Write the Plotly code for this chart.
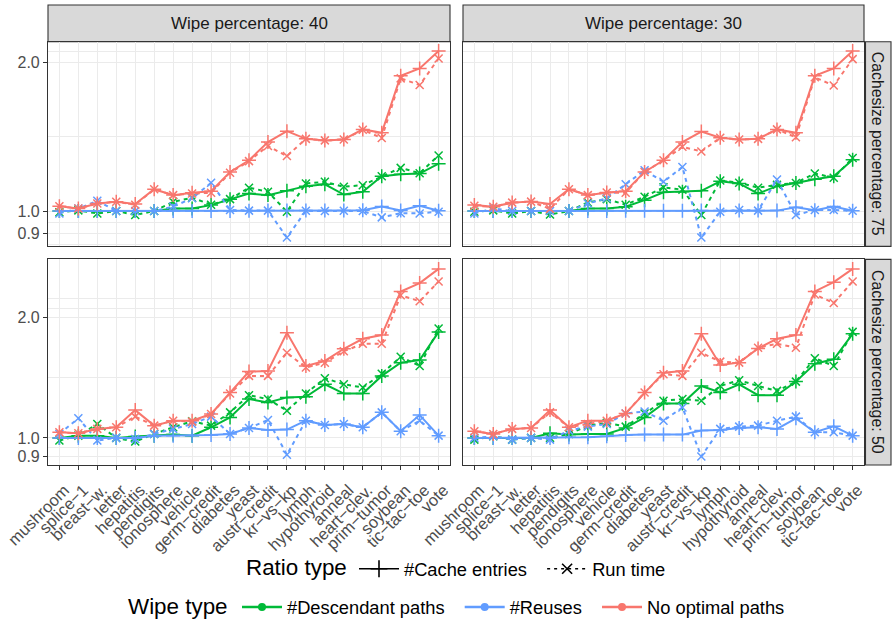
import plotly.graph_objects as go

categories = ["mushroom", "splice\u22121", "breast\u2212w.", "letter", "hepatitis", "pendigits",
              "ionosphere", "vehicle", "germ\u2212credit", "diabetes", "yeast", "austr\u2212credit",
              "kr\u2212vs\u2212kp", "lymph", "hypothyroid", "anneal", "heart\u2212clev.", "prim\u2212tumor",
              "soybean", "tic\u2212tac\u2212toe", "vote"]

wipe_types = ["#Descendant paths", "#Reuses", "No optimal paths"]
ratio_types = ["#Cache entries", "Run time"]
wipe_pcts = ["40", "30"]
cache_pcts = ["75", "50"]

# Wipe 40 / Cachesize 75
w40_c75_desc_cache = [1.0, 1.0, 1.0, 1.0, 1.0, 1.0, 1.012, 1.012, 1.028, 1.057, 1.085, 1.077, 1.099, 1.123, 1.133, 1.080, 1.094, 1.176, 1.187, 1.191, 1.247]
w40_c75_desc_run = [0.994, 1.003, 0.989, 1.0, 0.982, 1.0, 1.044, 1.064, 1.030, 1.057, 1.115, 1.094, 0.997, 1.137, 1.146, 1.120, 1.128, 1.176, 1.223, 1.193, 1.296]
w40_c75_reuse_cache = [1.0, 1.0, 1.0, 1.0, 1.0, 1.0, 1.0, 1.0, 1.0, 1.0, 1.001, 1.002, 1.003, 1.002, 1.002, 1.002, 1.004, 1.021, 1.003, 1.025, 1.001]
w40_c75_reuse_run = [0.989, 1.012, 1.049, 1.0, 1.0, 1.0, 1.021, 1.061, 1.141, 1.005, 1.002, 1.002, 0.884, 1.001, 1.0, 1.001, 1.0, 0.971, 0.990, 0.989, 0.997]
w40_c75_noopt_cache = [1.023, 1.012, 1.036, 1.044, 1.033, 1.107, 1.077, 1.089, 1.097, 1.200, 1.267, 1.379, 1.451, 1.400, 1.390, 1.396, 1.463, 1.440, 1.878, 1.944, 2.108]
w40_c75_noopt_run = [1.023, 1.012, 1.036, 1.044, 1.030, 1.107, 1.077, 1.085, 1.089, 1.195, 1.262, 1.354, 1.292, 1.400, 1.390, 1.396, 1.460, 1.405, 1.856, 1.799, 2.036]

# Wipe 30 / Cachesize 75
w30_c75_desc_cache = [1.0, 1.0, 1.0, 1.0, 1.0, 1.0, 1.012, 1.012, 1.020, 1.052, 1.091, 1.094, 1.099, 1.149, 1.137, 1.085, 1.123, 1.140, 1.160, 1.176, 1.270]
w30_c75_desc_run = [0.997, 1.003, 0.989, 1.0, 0.984, 1.0, 1.041, 1.057, 1.030, 1.069, 1.117, 1.105, 0.982, 1.153, 1.141, 1.115, 1.130, 1.140, 1.191, 1.168, 1.280]
w30_c75_reuse_cache = [1.0, 1.0, 1.0, 1.0, 1.0, 1.0, 1.0, 1.0, 1.001, 1.001, 1.001, 1.001, 1.003, 1.003, 1.003, 1.002, 1.002, 1.018, 1.004, 1.021, 1.001]
w30_c75_reuse_run = [0.989, 1.012, 1.0, 1.0, 1.0, 1.0, 1.036, 1.061, 1.133, 1.209, 1.146, 1.228, 0.884, 0.997, 1.005, 1.002, 1.158, 0.982, 1.005, 1.005, 1.001]
w30_c75_noopt_cache = [1.028, 1.020, 1.040, 1.045, 1.033, 1.107, 1.077, 1.090, 1.097, 1.200, 1.267, 1.379, 1.448, 1.407, 1.396, 1.400, 1.463, 1.440, 1.878, 1.944, 2.108]
w30_c75_noopt_run = [1.025, 1.020, 1.040, 1.045, 1.010, 1.107, 1.077, 1.090, 1.089, 1.200, 1.267, 1.349, 1.320, 1.407, 1.396, 1.400, 1.463, 1.410, 1.865, 1.795, 2.030]

# Wipe 40 / Cachesize 50
w40_c50_desc_cache = [1.0, 1.013, 1.013, 1.0, 1.008, 1.013, 1.019, 1.013, 1.063, 1.125, 1.250, 1.226, 1.262, 1.266, 1.361, 1.290, 1.290, 1.428, 1.541, 1.564, 1.839]
w40_c50_desc_run = [0.985, 1.013, 1.083, 1.0, 0.979, 1.023, 1.063, 1.100, 1.073, 1.158, 1.278, 1.250, 1.169, 1.290, 1.409, 1.361, 1.336, 1.445, 1.594, 1.512, 1.875]
w40_c50_reuse_cache = [1.0, 1.0, 1.0, 1.0, 1.0, 1.013, 1.013, 1.013, 1.017, 1.023, 1.059, 1.047, 1.049, 1.104, 1.077, 1.083, 1.063, 1.158, 1.039, 1.140, 1.013]
w40_c50_reuse_run = [1.023, 1.119, 0.985, 1.0, 0.994, 1.023, 1.053, 1.083, 1.130, 1.023, 1.059, 1.108, 0.908, 1.104, 1.077, 1.083, 1.063, 1.158, 1.039, 1.104, 1.013]
w40_c50_noopt_cache = [1.033, 1.027, 1.053, 1.063, 1.173, 1.073, 1.104, 1.104, 1.147, 1.298, 1.464, 1.469, 1.829, 1.512, 1.556, 1.669, 1.768, 1.806, 2.320, 2.434, 2.641]
w40_c50_noopt_run = [1.033, 1.027, 1.053, 1.063, 1.130, 1.073, 1.104, 1.098, 1.147, 1.290, 1.428, 1.428, 1.631, 1.498, 1.540, 1.645, 1.718, 1.718, 2.270, 2.193, 2.457]

# Wipe 30 / Cachesize 50
w30_c50_desc_cache = [1.0, 1.0, 1.0, 1.0, 1.027, 1.019, 1.023, 1.023, 1.059, 1.125, 1.219, 1.219, 1.348, 1.298, 1.361, 1.278, 1.278, 1.382, 1.532, 1.571, 1.819]
w30_c50_desc_run = [0.990, 1.009, 0.990, 1.0, 1.0, 1.023, 1.073, 1.090, 1.067, 1.151, 1.238, 1.250, 1.238, 1.348, 1.393, 1.348, 1.310, 1.382, 1.580, 1.512, 1.839]
w30_c50_reuse_cache = [1.0, 1.0, 1.0, 1.0, 1.0, 1.004, 1.004, 1.009, 1.017, 1.019, 1.019, 1.019, 1.043, 1.047, 1.059, 1.063, 1.053, 1.119, 1.033, 1.069, 1.013]
w30_c50_reuse_run = [1.0, 1.009, 0.990, 1.0, 0.990, 1.043, 1.067, 1.083, 1.151, 1.164, 1.104, 1.191, 0.899, 1.053, 1.067, 1.073, 1.104, 1.130, 1.033, 1.033, 1.013]
w30_c50_noopt_cache = [1.039, 1.023, 1.053, 1.059, 1.173, 1.063, 1.104, 1.104, 1.151, 1.298, 1.455, 1.469, 1.819, 1.520, 1.541, 1.672, 1.768, 1.806, 2.320, 2.447, 2.641]
w30_c50_noopt_run = [1.039, 1.023, 1.053, 1.059, 1.158, 1.063, 1.083, 1.104, 1.151, 1.298, 1.442, 1.428, 1.631, 1.550, 1.541, 1.679, 1.718, 1.679, 2.280, 2.171, 2.457]

y_tick_vals = [0.9, 1.0, 2.0]
y_tick_text = ["0.9", "1.0", "2.0"]

panels = {
    ("40", "75"): [(w40_c75_desc_cache, w40_c75_desc_run), (w40_c75_reuse_cache, w40_c75_reuse_run), (w40_c75_noopt_cache, w40_c75_noopt_run)],
    ("30", "75"): [(w30_c75_desc_cache, w30_c75_desc_run), (w30_c75_reuse_cache, w30_c75_reuse_run), (w30_c75_noopt_cache, w30_c75_noopt_run)],
    ("40", "50"): [(w40_c50_desc_cache, w40_c50_desc_run), (w40_c50_reuse_cache, w40_c50_reuse_run), (w40_c50_noopt_cache, w40_c50_noopt_run)],
    ("30", "50"): [(w30_c50_desc_cache, w30_c50_desc_run), (w30_c50_reuse_cache, w30_c50_reuse_run), (w30_c50_noopt_cache, w30_c50_noopt_run)],
}

colors = ["#00BA38", "#619CFF", "#F8766D"]
W, H = 893, 626
FONT = "Liberation Sans, Arial, sans-serif"
NB = "\u00a0"

# Layout geometry (pixels)
col_x = [(48, 450), (463, 864)]
row_y = [(42, 248), (261, 468)]
row_ranges = [[-0.0716, 0.3427], [-0.0677, 0.4457]]
row_minor = [[0.854, 0.9487, 1.4142, 2.108], [0.9487, 1.4142, 2.108, 2.223]]

fig = go.Figure()
layout = {}
shapes = []
annotations = []
idx = 0
for r, cp in enumerate(cache_pcts):
    for c, wp in enumerate(wipe_pcts):
        idx += 1
        xa = "x" if idx == 1 else f"x{idx}"
        ya = "y" if idx == 1 else f"y{idx}"
        for k, (cache_vals, run_vals) in enumerate(panels[(wp, cp)]):
            col = colors[k]
            fig.add_trace(go.Scatter(
                x=categories, y=cache_vals, mode="lines+markers", xaxis=xa, yaxis=ya,
                line=dict(color=col, width=2),
                marker=dict(symbol="cross-thin-open", size=10, color=col, line=dict(color=col, width=1.5)),
                showlegend=False, name=f"{wipe_types[k]} - {ratio_types[0]}"))
            fig.add_trace(go.Scatter(
                x=categories, y=run_vals, mode="lines+markers", xaxis=xa, yaxis=ya,
                line=dict(color=col, width=2, dash="4px,4px"),
                marker=dict(symbol="x-thin-open", size=8, color=col, line=dict(color=col, width=1.5)),
                showlegend=False, name=f"{wipe_types[k]} - {ratio_types[1]}"))
        x0, x1 = col_x[c]
        y0, y1 = row_y[r]
        xkey = "xaxis" if idx == 1 else f"xaxis{idx}"
        ykey = "yaxis" if idx == 1 else f"yaxis{idx}"
        layout[xkey] = dict(
            domain=[x0 / W, x1 / W], anchor=ya, type="category",
            categoryorder="array", categoryarray=categories,
            tickmode="array", tickvals=categories, ticktext=categories,
            range=[-0.6, len(categories) - 0.4], automargin=False,
            showgrid=True, gridcolor="#EBEBEB", gridwidth=1.1,
            showline=True, linecolor="#333333", linewidth=1.1, mirror=True,
            ticks="outside" if r == 1 else "", ticklen=4, tickcolor="#333333", tickwidth=1.1,
            showticklabels=(r == 1), tickangle=-45,
            ticklabelstandoff=4, ticklabelshift=5,
            tickfont=dict(family=FONT, size=16.5, color="#4D4D4D"), zeroline=False)
        layout[ykey] = dict(
            domain=[1 - y1 / H, 1 - y0 / H], anchor=xa, type="log", automargin=False,
            range=row_ranges[r], tickmode="array", tickvals=y_tick_vals, ticktext=y_tick_text,
            showgrid=True, gridcolor="#EBEBEB", gridwidth=1.1,
            minor=dict(tickmode="array", tickvals=row_minor[r], showgrid=True,
                       gridcolor="#EBEBEB", gridwidth=0.7, ticks=""),
            showline=True, linecolor="#333333", linewidth=1.1, mirror=True,
            ticks="outside" if c == 0 else "", ticklen=4, tickcolor="#333333", tickwidth=1.1,
            showticklabels=(c == 0),
            tickfont=dict(family=FONT, size=16, color="#4D4D4D"), zeroline=False)

# Strips (top: wipe percentage; right: cachesize percentage)
for c, wp in enumerate(wipe_pcts):
    x0, x1 = col_x[c]
    shapes.append(dict(type="rect", xref="paper", yref="paper", x0=x0 / W, x1=x1 / W,
                       y0=1 - 42 / H, y1=1 - 5 / H, fillcolor="#D9D9D9",
                       line=dict(color="#333333", width=1.1), layer="below"))
    annotations.append(dict(text=f"Wipe percentage: {wp}", xref="paper", yref="paper",
                            x=(x0 + x1) / 2 / W, y=1 - 23.5 / H, showarrow=False,
                            font=dict(family=FONT, size=17, color="#1A1A1A"),
                            xanchor="center", yanchor="middle"))
for r, cp in enumerate(cache_pcts):
    y0, y1 = row_y[r]
    shapes.append(dict(type="rect", xref="paper", yref="paper", x0=865.5 / W, x1=891 / W,
                       y0=1 - y1 / H, y1=1 - y0 / H, fillcolor="#D9D9D9",
                       line=dict(color="#333333", width=1.1), layer="below"))
    annotations.append(dict(text=f"Cachesize percentage: {cp}", xref="paper", yref="paper",
                            x=878.2 / W, y=1 - (y0 + y1) / 2 / H, showarrow=False, textangle=90,
                            font=dict(family=FONT, size=15.8, color="#1A1A1A"),
                            xanchor="center", yanchor="middle"))

# Legend titles
annotations.append(dict(text="Ratio type", xref="paper", yref="paper", x=244 / W, y=1 - 571.5 / H,
                        showarrow=False, xanchor="left", yanchor="middle",
                        font=dict(family=FONT, size=22.4, color="black")))
annotations.append(dict(text="Wipe type", xref="paper", yref="paper", x=126 / W, y=1 - 610 / H,
                        showarrow=False, xanchor="left", yanchor="middle",
                        font=dict(family=FONT, size=22.4, color="black")))

# Legend entries (non-breaking spaces pad the gap to the next key)
ratio_pads = [NB * 2, ""]
wipe_pads = [NB * 2, NB * 2, ""]
fig.add_trace(go.Scatter(x=[None], y=[None], mode="lines+markers", name=ratio_types[0] + ratio_pads[0], legend="legend",
                         line=dict(color="black", width=1.6),
                         marker=dict(symbol="cross-thin-open", size=12, color="black", line=dict(color="black", width=1.6))))
fig.add_trace(go.Scatter(x=[None], y=[None], mode="lines+markers", name=ratio_types[1] + ratio_pads[1], legend="legend",
                         line=dict(color="black", width=1.6, dash="3px,4px"),
                         marker=dict(symbol="x-thin-open", size=10, color="black", line=dict(color="black", width=1.6))))
for k, wt in enumerate(wipe_types):
    fig.add_trace(go.Scatter(x=[None], y=[None], mode="lines+markers", name=wt + wipe_pads[k], legend="legend2",
                             line=dict(color=colors[k], width=2.5),
                             marker=dict(symbol="circle", size=8, color=colors[k])))

fig.update_layout(
    width=W, height=H, margin=dict(l=0, r=0, t=0, b=0),
    paper_bgcolor="white", plot_bgcolor="white",
    font=dict(family=FONT, color="#1A1A1A"),
    shapes=shapes, annotations=annotations,
    legend=dict(orientation="h", x=354 / W, xanchor="left", y=1 - 572.5 / H, yanchor="middle",
                font=dict(family=FONT, size=18.3, color="black"), bgcolor="rgba(0,0,0,0)",
                itemclick=False, itemwidth=40),
    legend2=dict(orientation="h", x=237 / W, xanchor="left", y=1 - 611 / H, yanchor="middle",
                 font=dict(family=FONT, size=18.3, color="black"), bgcolor="rgba(0,0,0,0)",
                 itemclick=False, itemwidth=40),
    **layout,
)

fig.write_html("out.html", config={"displayModeBar": False},
               post_script="document.body.style.margin='0';")
